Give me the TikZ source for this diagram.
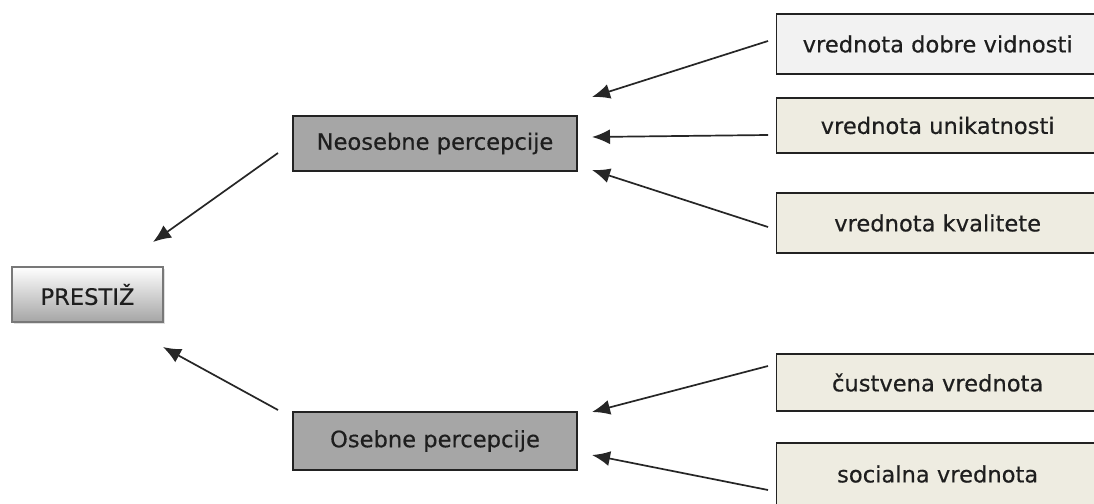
\documentclass[tikz,border=0pt]{standalone}
\usepackage{fontspec}
\newfontfamily\lblfont[FakeBold=0.4]{DejaVu Sans}
\usetikzlibrary{arrows.meta,shadows}
\definecolor{txt}{HTML}{1E1E1E}
\definecolor{midgray}{HTML}{A6A6A6}
\definecolor{lightbox}{HTML}{F2F2F2}
\definecolor{beige}{HTML}{EEECE1}
\definecolor{edge}{HTML}{222222}
\tikzset{
  lbl/.style={font=\lblfont\fontsize{22.6}{27}\selectfont, text=txt},
  prestbox/.style={lbl, draw={rgb,255:red,120;green,120;blue,120}, line width=1.2pt,
    top color=white, bottom color={rgb,255:red,165;green,165;blue,165},
    minimum width=151, minimum height=55, inner sep=0pt,
    drop shadow={opacity=0.25, shadow xshift=2pt, shadow yshift=-2pt}},
  midbox/.style={lbl, draw=edge, line width=1.3pt, fill=midgray,
    minimum width=284, minimum height=55, inner sep=0pt},
  rightbox/.style={lbl, draw=edge, line width=1.3pt, anchor=west,
    minimum width=322, inner sep=0pt},
  conn/.style={draw=black!85, line width=1.7pt, -{Latex[length=18pt,width=15pt]}}
}
\begin{document}
\begin{tikzpicture}[x=1pt,y=-1pt]
\useasboundingbox (0,0) rectangle (1094,503);
\clip (0,0) rectangle (1094,503);
\fill[white] (0,0) rectangle (1094,503);

\node[prestbox] (prestiz) at (87.5,294.5) {PRESTIŽ\hspace{8pt}};
\node[midbox] (neos) at (435,143.5) {Neosebne percepcije};
\node[midbox, minimum height=58] (os) at (435,441) {Osebne percepcije};

\node[rightbox, fill=lightbox, minimum height=60] (v1) at (776,44) {vrednota dobre vidnosti};
\node[rightbox, fill=beige, minimum height=55] (v2) at (776,125.5) {vrednota unikatnosti};
\node[rightbox, fill=beige, minimum height=60] (v3) at (776,223) {vrednota kvalitete};
\node[rightbox, fill=beige, minimum height=57] (v4) at (776,382.5) {čustvena vrednota};
\node[rightbox, fill=beige, minimum height=62] (v5) at (776,474) {socialna vrednota};

% arrow ends
\coordinate (s1) at (768,41);  \coordinate (t1) at (592,97);
\coordinate (s2) at (768,135); \coordinate (t2) at (592,137);
\coordinate (s3) at (768,227); \coordinate (t3) at (592,170);
\coordinate (s4) at (768,366); \coordinate (t4) at (592,412);
\coordinate (s5) at (768,490); \coordinate (t5) at (592,455);
\coordinate (sn) at (278,153); \coordinate (tn) at (153,242);
\coordinate (so) at (278,410); \coordinate (to) at (163,347);

\draw[conn] (s1) -- (t1);
\draw[conn] (s2) -- (t2);
\draw[conn] (s3) -- (t3);
\draw[conn] (s4) -- (t4);
\draw[conn] (s5) -- (t5);
\draw[conn] (sn) -- (tn);
\draw[conn] (so) -- (to);
\end{tikzpicture}
\end{document}
